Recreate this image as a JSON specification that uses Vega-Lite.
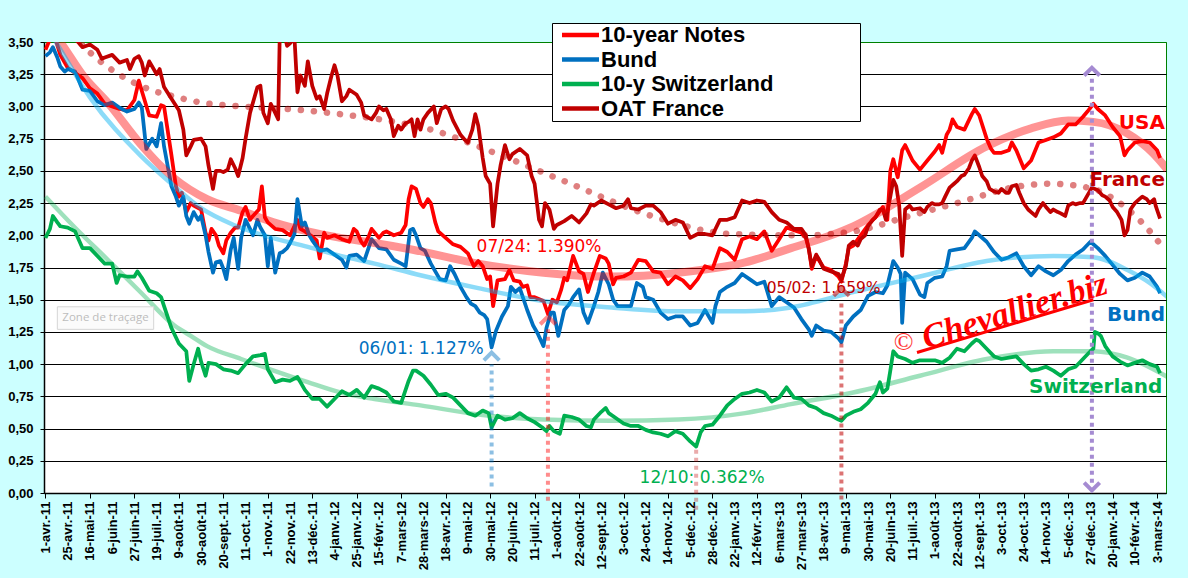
{
  "$schema": "https://vega.github.io/schema/vega-lite/v6.json",
  "width": 1122,
  "height": 451,
  "autosize": {"type": "none"},
  "padding": {"left": 44, "top": 42, "right": 22, "bottom": 85},
  "background": "#CCFFFF",
  "config": {
    "view": {"fill": "white", "stroke": "#008000", "strokeWidth": 1}
  },
  "datasets": {
    "us": [
      {"i":0,"v":3.44},{"i":3,"v":3.52},{"i":6,"v":3.55},{"i":10,"v":3.40},{"i":15,"v":3.30},{"i":20,"v":3.26},{"i":25,"v":3.22},{"i":30,"v":3.14},{"i":35,"v":3.10},{"i":40,"v":3.02},
      {"i":45,"v":3.00},{"i":50,"v":2.98},{"i":55,"v":2.97},{"i":60,"v":3.05},{"i":63,"v":3.20},{"i":65,"v":3.12},{"i":70,"v":2.93},{"i":75,"v":2.92},{"i":78,"v":3.01},{"i":80,"v":3.00},
      {"i":85,"v":2.62},{"i":88,"v":2.38},{"i":90,"v":2.30},{"i":92,"v":2.33},{"i":95,"v":2.18},{"i":98,"v":2.25},{"i":100,"v":2.23},{"i":105,"v":2.20},{"i":108,"v":2.02},{"i":110,"v":1.96},
      {"i":112,"v":2.05},{"i":115,"v":2.00},{"i":117,"v":1.92},{"i":120,"v":1.86},{"i":122,"v":1.96},{"i":125,"v":2.02},{"i":128,"v":2.06},{"i":130,"v":2.06},{"i":133,"v":2.18},{"i":135,"v":2.22},
      {"i":138,"v":2.12},{"i":140,"v":2.15},{"i":144,"v":2.20},{"i":146,"v":2.38},{"i":148,"v":2.14},{"i":150,"v":2.10},{"i":155,"v":2.05},{"i":160,"v":2.04},{"i":165,"v":2.00},{"i":170,"v":2.12},
      {"i":172,"v":2.05},{"i":175,"v":2.03},{"i":180,"v":1.99},{"i":183,"v":1.96},{"i":185,"v":1.82},{"i":188,"v":2.02},{"i":190,"v":1.98},{"i":195,"v":2.00},{"i":200,"v":1.97},{"i":205,"v":1.95},
      {"i":208,"v":2.05},{"i":210,"v":2.03},{"i":213,"v":1.95},{"i":215,"v":1.92},{"i":218,"v":1.99},{"i":220,"v":2.05},{"i":225,"v":1.98},{"i":228,"v":2.02},{"i":230,"v":2.03},{"i":235,"v":2.00},
      {"i":240,"v":2.02},{"i":243,"v":2.08},{"i":245,"v":2.28},{"i":247,"v":2.38},{"i":250,"v":2.36},{"i":253,"v":2.25},{"i":255,"v":2.22},{"i":258,"v":2.28},{"i":260,"v":2.25},{"i":263,"v":2.10},
      {"i":265,"v":2.03},{"i":270,"v":1.98},{"i":275,"v":1.93},{"i":280,"v":1.91},{"i":285,"v":1.86},{"i":289,"v":1.76},{"i":292,"v":1.80},{"i":295,"v":1.76},{"i":298,"v":1.66},{"i":300,"v":1.68},
      {"i":302,"v":1.45},{"i":305,"v":1.65},{"i":310,"v":1.66},{"i":313,"v":1.73},{"i":316,"v":1.65},{"i":320,"v":1.64},{"i":322,"v":1.60},{"i":325,"v":1.61},{"i":327,"v":1.52},{"i":330,"v":1.52},
      {"i":334,"v":1.50},{"i":336,"v":1.49},{"i":339,"v":1.39},{"i":342,"v":1.50},{"i":345,"v":1.48},{"i":348,"v":1.58},{"i":350,"v":1.67},{"i":352,"v":1.65},{"i":356,"v":1.84},{"i":360,"v":1.72},
      {"i":363,"v":1.70},{"i":366,"v":1.56},{"i":370,"v":1.71},{"i":374,"v":1.84},{"i":378,"v":1.82},{"i":380,"v":1.78},{"i":383,"v":1.62},{"i":385,"v":1.67},{"i":390,"v":1.68},{"i":395,"v":1.71},
      {"i":400,"v":1.81},{"i":405,"v":1.80},{"i":410,"v":1.72},{"i":415,"v":1.71},{"i":420,"v":1.62},{"i":425,"v":1.68},{"i":430,"v":1.65},{"i":435,"v":1.59},{"i":440,"v":1.66},{"i":445,"v":1.76},
      {"i":450,"v":1.74},{"i":455,"v":1.90},{"i":460,"v":1.87},{"i":465,"v":1.81},{"i":470,"v":1.97},{"i":475,"v":1.99},{"i":480,"v":1.97},{"i":485,"v":2.03},{"i":490,"v":1.88},{"i":495,"v":1.97},
      {"i":500,"v":2.06},{"i":505,"v":2.04},{"i":510,"v":2.02},{"i":513,"v":1.98},{"i":515,"v":1.90},{"i":517,"v":1.74},{"i":520,"v":1.84},{"i":525,"v":1.75},{"i":530,"v":1.73},{"i":535,"v":1.68},
      {"i":537,"v":1.64},{"i":540,"v":1.78},{"i":542,"v":1.90},{"i":545,"v":1.92},{"i":550,"v":2.00},{"i":555,"v":2.08},{"i":560,"v":2.14},{"i":565,"v":2.22},{"i":568,"v":2.12},{"i":570,"v":2.50},
      {"i":572,"v":2.59},{"i":575,"v":2.45},{"i":578,"v":2.66},{"i":580,"v":2.70},{"i":585,"v":2.58},{"i":590,"v":2.51},{"i":595,"v":2.58},{"i":600,"v":2.65},{"i":603,"v":2.70},{"i":605,"v":2.64},
      {"i":608,"v":2.78},{"i":610,"v":2.82},{"i":612,"v":2.90},{"i":615,"v":2.84},{"i":620,"v":2.82},{"i":625,"v":2.94},{"i":627,"v":2.98},{"i":630,"v":2.93},{"i":635,"v":2.75},{"i":638,"v":2.67},
      {"i":640,"v":2.64},{"i":645,"v":2.64},{"i":650,"v":2.66},{"i":652,"v":2.72},{"i":655,"v":2.66},{"i":660,"v":2.52},{"i":665,"v":2.58},{"i":670,"v":2.72},{"i":675,"v":2.74},{"i":680,"v":2.76},
      {"i":685,"v":2.79},{"i":690,"v":2.86},{"i":695,"v":2.86},{"i":700,"v":2.92},{"i":703,"v":2.96},{"i":707,"v":3.02},{"i":710,"v":2.98},{"i":715,"v":2.93},{"i":720,"v":2.84},{"i":725,"v":2.77},
      {"i":728,"v":2.62},{"i":730,"v":2.66},{"i":735,"v":2.72},{"i":740,"v":2.73},{"i":745,"v":2.72},{"i":750,"v":2.66},{"i":752,"v":2.60}
    ],
    "bund": [
      {"i":0,"v":3.39},{"i":3,"v":3.42},{"i":5,"v":3.46},{"i":8,"v":3.38},{"i":10,"v":3.31},{"i":13,"v":3.27},{"i":15,"v":3.29},{"i":20,"v":3.27},{"i":25,"v":3.13},{"i":30,"v":3.12},
      {"i":35,"v":3.04},{"i":40,"v":3.01},{"i":45,"v":3.03},{"i":50,"v":2.99},{"i":55,"v":2.96},{"i":60,"v":2.98},{"i":63,"v":3.03},{"i":65,"v":2.99},{"i":68,"v":2.67},{"i":72,"v":2.75},
      {"i":75,"v":2.69},{"i":78,"v":2.87},{"i":80,"v":2.69},{"i":85,"v":2.38},{"i":88,"v":2.30},{"i":90,"v":2.23},{"i":93,"v":2.30},{"i":95,"v":2.15},{"i":97,"v":2.09},{"i":100,"v":2.18},
      {"i":103,"v":2.12},{"i":105,"v":2.15},{"i":108,"v":2.00},{"i":110,"v":1.87},{"i":113,"v":1.71},{"i":115,"v":1.79},{"i":118,"v":1.80},{"i":120,"v":1.74},{"i":122,"v":1.66},{"i":125,"v":1.89},
      {"i":127,"v":1.98},{"i":130,"v":1.74},{"i":132,"v":1.98},{"i":135,"v":2.12},{"i":138,"v":2.05},{"i":140,"v":2.00},{"i":143,"v":2.12},{"i":145,"v":2.06},{"i":148,"v":2.00},{"i":150,"v":1.76},
      {"i":152,"v":1.98},{"i":155,"v":1.71},{"i":158,"v":1.86},{"i":160,"v":1.87},{"i":163,"v":1.90},{"i":165,"v":1.94},{"i":168,"v":2.01},{"i":170,"v":2.28},{"i":173,"v":2.07},{"i":175,"v":2.10},
      {"i":178,"v":2.00},{"i":180,"v":1.96},{"i":185,"v":1.88},{"i":190,"v":1.89},{"i":195,"v":1.85},{"i":200,"v":1.81},{"i":203,"v":1.75},{"i":205,"v":1.84},{"i":210,"v":1.85},{"i":215,"v":1.80},
      {"i":220,"v":1.97},{"i":225,"v":1.90},{"i":230,"v":1.89},{"i":235,"v":1.81},{"i":240,"v":1.78},{"i":243,"v":1.76},{"i":246,"v":2.04},{"i":248,"v":2.05},{"i":250,"v":2.00},{"i":253,"v":1.90},
      {"i":256,"v":1.88},{"i":260,"v":1.78},{"i":263,"v":1.72},{"i":266,"v":1.66},{"i":270,"v":1.65},{"i":273,"v":1.76},{"i":276,"v":1.70},{"i":280,"v":1.60},{"i":284,"v":1.52},{"i":287,"v":1.47},
      {"i":290,"v":1.45},{"i":293,"v":1.40},{"i":296,"v":1.38},{"i":298,"v":1.35},{"i":301,"v":1.13},{"i":304,"v":1.26},{"i":308,"v":1.37},{"i":312,"v":1.45},{"i":314,"v":1.60},{"i":317,"v":1.56},
      {"i":320,"v":1.59},{"i":325,"v":1.42},{"i":329,"v":1.30},{"i":332,"v":1.24},{"i":336,"v":1.14},{"i":338,"v":1.28},{"i":341,"v":1.40},{"i":343,"v":1.40},{"i":346,"v":1.22},{"i":350,"v":1.42},
      {"i":353,"v":1.46},{"i":356,"v":1.52},{"i":360,"v":1.58},{"i":363,"v":1.40},{"i":366,"v":1.32},{"i":370,"v":1.45},{"i":373,"v":1.56},{"i":376,"v":1.71},{"i":380,"v":1.62},{"i":383,"v":1.50},
      {"i":386,"v":1.45},{"i":390,"v":1.45},{"i":395,"v":1.45},{"i":399,"v":1.63},{"i":403,"v":1.60},{"i":405,"v":1.52},{"i":410,"v":1.50},{"i":415,"v":1.40},{"i":420,"v":1.35},{"i":425,"v":1.37},
      {"i":430,"v":1.37},{"i":435,"v":1.30},{"i":440,"v":1.32},{"i":445,"v":1.42},{"i":450,"v":1.32},{"i":452,"v":1.45},{"i":455,"v":1.56},{"i":460,"v":1.60},{"i":465,"v":1.63},{"i":470,"v":1.70},
      {"i":475,"v":1.66},{"i":480,"v":1.62},{"i":485,"v":1.64},{"i":490,"v":1.45},{"i":495,"v":1.52},{"i":500,"v":1.48},{"i":505,"v":1.44},{"i":510,"v":1.35},{"i":515,"v":1.27},{"i":517,"v":1.22},
      {"i":520,"v":1.30},{"i":525,"v":1.26},{"i":530,"v":1.25},{"i":535,"v":1.20},{"i":537,"v":1.17},{"i":540,"v":1.30},{"i":545,"v":1.37},{"i":550,"v":1.42},{"i":555,"v":1.53},{"i":560,"v":1.56},
      {"i":565,"v":1.55},{"i":568,"v":1.61},{"i":572,"v":1.80},{"i":575,"v":1.75},{"i":577,"v":1.70},{"i":578,"v":1.32},{"i":580,"v":1.71},{"i":585,"v":1.66},{"i":590,"v":1.54},{"i":593,"v":1.52},
      {"i":595,"v":1.63},{"i":600,"v":1.67},{"i":605,"v":1.68},{"i":608,"v":1.76},{"i":610,"v":1.88},{"i":615,"v":1.89},{"i":620,"v":1.90},{"i":625,"v":1.98},{"i":627,"v":2.03},{"i":630,"v":2.00},
      {"i":635,"v":1.95},{"i":640,"v":1.87},{"i":645,"v":1.81},{"i":650,"v":1.83},{"i":655,"v":1.86},{"i":660,"v":1.76},{"i":665,"v":1.69},{"i":670,"v":1.76},{"i":675,"v":1.72},{"i":680,"v":1.69},
      {"i":685,"v":1.73},{"i":690,"v":1.80},{"i":695,"v":1.85},{"i":700,"v":1.89},{"i":705,"v":1.95},{"i":710,"v":1.90},{"i":715,"v":1.84},{"i":720,"v":1.77},{"i":725,"v":1.70},{"i":730,"v":1.65},
      {"i":735,"v":1.67},{"i":740,"v":1.71},{"i":745,"v":1.68},{"i":750,"v":1.60},{"i":752,"v":1.55}
    ],
    "ch": [
      {"i":0,"v":1.98},{"i":3,"v":2.05},{"i":5,"v":2.15},{"i":8,"v":2.10},{"i":10,"v":2.07},{"i":15,"v":2.06},{"i":20,"v":2.03},{"i":25,"v":1.90},{"i":30,"v":1.90},{"i":35,"v":1.84},
      {"i":40,"v":1.78},{"i":45,"v":1.78},{"i":48,"v":1.63},{"i":50,"v":1.69},{"i":55,"v":1.68},{"i":60,"v":1.68},{"i":62,"v":1.72},{"i":65,"v":1.67},{"i":70,"v":1.57},{"i":75,"v":1.55},
      {"i":78,"v":1.52},{"i":80,"v":1.45},{"i":85,"v":1.28},{"i":90,"v":1.16},{"i":95,"v":1.10},{"i":97,"v":0.87},{"i":100,"v":1.00},{"i":103,"v":1.12},{"i":105,"v":1.02},{"i":108,"v":0.91},
      {"i":110,"v":1.01},{"i":115,"v":1.00},{"i":120,"v":0.96},{"i":125,"v":0.95},{"i":130,"v":0.93},{"i":135,"v":1.00},{"i":140,"v":1.06},{"i":145,"v":1.07},{"i":148,"v":1.08},{"i":150,"v":0.96},
      {"i":155,"v":0.86},{"i":160,"v":0.88},{"i":165,"v":0.87},{"i":170,"v":0.90},{"i":175,"v":0.80},{"i":180,"v":0.73},{"i":185,"v":0.73},{"i":190,"v":0.67},{"i":195,"v":0.73},{"i":200,"v":0.79},
      {"i":205,"v":0.76},{"i":210,"v":0.80},{"i":215,"v":0.74},{"i":220,"v":0.83},{"i":225,"v":0.81},{"i":230,"v":0.78},{"i":235,"v":0.71},{"i":240,"v":0.70},{"i":245,"v":0.87},{"i":248,"v":0.95},
      {"i":250,"v":0.95},{"i":255,"v":0.91},{"i":260,"v":0.84},{"i":265,"v":0.76},{"i":270,"v":0.77},{"i":275,"v":0.74},{"i":280,"v":0.68},{"i":285,"v":0.62},{"i":290,"v":0.60},{"i":295,"v":0.64},
      {"i":299,"v":0.62},{"i":301,"v":0.51},{"i":305,"v":0.60},{"i":310,"v":0.57},{"i":315,"v":0.58},{"i":320,"v":0.62},{"i":325,"v":0.58},{"i":330,"v":0.55},{"i":335,"v":0.51},{"i":338,"v":0.48},
      {"i":340,"v":0.52},{"i":343,"v":0.48},{"i":347,"v":0.46},{"i":350,"v":0.60},{"i":355,"v":0.59},{"i":360,"v":0.57},{"i":365,"v":0.52},{"i":368,"v":0.51},{"i":370,"v":0.57},{"i":375,"v":0.63},
      {"i":378,"v":0.66},{"i":380,"v":0.62},{"i":385,"v":0.58},{"i":390,"v":0.54},{"i":395,"v":0.52},{"i":400,"v":0.52},{"i":405,"v":0.49},{"i":410,"v":0.47},{"i":415,"v":0.46},{"i":420,"v":0.44},
      {"i":425,"v":0.48},{"i":430,"v":0.46},{"i":435,"v":0.40},{"i":439,"v":0.36},{"i":442,"v":0.47},{"i":445,"v":0.52},{"i":450,"v":0.53},{"i":455,"v":0.60},{"i":460,"v":0.68},{"i":465,"v":0.73},
      {"i":470,"v":0.77},{"i":475,"v":0.78},{"i":480,"v":0.80},{"i":485,"v":0.78},{"i":490,"v":0.71},{"i":495,"v":0.74},{"i":500,"v":0.82},{"i":505,"v":0.74},{"i":510,"v":0.73},{"i":515,"v":0.68},
      {"i":520,"v":0.66},{"i":525,"v":0.62},{"i":530,"v":0.60},{"i":535,"v":0.57},{"i":537,"v":0.56},{"i":540,"v":0.60},{"i":545,"v":0.63},{"i":550,"v":0.65},{"i":555,"v":0.70},{"i":560,"v":0.77},
      {"i":563,"v":0.86},{"i":565,"v":0.78},{"i":568,"v":0.81},{"i":570,"v":0.95},{"i":572,"v":1.10},{"i":575,"v":1.06},{"i":580,"v":1.04},{"i":585,"v":1.01},{"i":590,"v":1.03},{"i":595,"v":1.03},
      {"i":600,"v":1.03},{"i":605,"v":1.01},{"i":610,"v":1.05},{"i":615,"v":1.12},{"i":620,"v":1.10},{"i":625,"v":1.16},{"i":628,"v":1.19},{"i":630,"v":1.18},{"i":635,"v":1.12},{"i":640,"v":1.06},
      {"i":645,"v":1.04},{"i":650,"v":1.05},{"i":655,"v":1.06},{"i":660,"v":1.00},{"i":665,"v":0.95},{"i":670,"v":0.96},{"i":675,"v":0.98},{"i":680,"v":0.95},{"i":685,"v":0.91},{"i":690,"v":0.96},
      {"i":695,"v":0.98},{"i":700,"v":1.04},{"i":705,"v":1.10},{"i":707,"v":1.12},{"i":708,"v":1.25},{"i":710,"v":1.24},{"i":712,"v":1.22},{"i":715,"v":1.14},{"i":720,"v":1.06},{"i":725,"v":1.02},
      {"i":730,"v":0.99},{"i":735,"v":1.01},{"i":740,"v":1.03},{"i":745,"v":1.00},{"i":750,"v":0.98},{"i":752,"v":0.93}
    ],
    "fr": [
      {"i":0,"v":3.62},{"i":5,"v":3.60},{"i":10,"v":3.58},{"i":15,"v":3.55},{"i":20,"v":3.52},{"i":22,"v":3.50},{"i":25,"v":3.46},{"i":30,"v":3.48},{"i":35,"v":3.44},{"i":38,"v":3.37},
      {"i":40,"v":3.38},{"i":45,"v":3.40},{"i":50,"v":3.34},{"i":55,"v":3.36},{"i":57,"v":3.29},{"i":60,"v":3.37},{"i":63,"v":3.39},{"i":65,"v":3.34},{"i":67,"v":3.24},{"i":70,"v":3.35},
      {"i":75,"v":3.25},{"i":77,"v":3.29},{"i":80,"v":3.15},{"i":85,"v":3.06},{"i":90,"v":2.97},{"i":93,"v":2.82},{"i":95,"v":2.62},{"i":98,"v":2.69},{"i":100,"v":2.74},{"i":105,"v":2.75},
      {"i":108,"v":2.69},{"i":110,"v":2.54},{"i":113,"v":2.36},{"i":115,"v":2.50},{"i":118,"v":2.50},{"i":120,"v":2.49},{"i":123,"v":2.51},{"i":125,"v":2.59},{"i":128,"v":2.52},{"i":130,"v":2.46},
      {"i":133,"v":2.60},{"i":135,"v":2.75},{"i":138,"v":2.95},{"i":140,"v":3.03},{"i":143,"v":3.15},{"i":145,"v":3.16},{"i":147,"v":2.95},{"i":150,"v":2.87},{"i":152,"v":3.02},{"i":155,"v":2.95},
      {"i":157,"v":2.90},{"i":158,"v":3.52},{"i":160,"v":3.62},{"i":163,"v":3.47},{"i":165,"v":3.49},{"i":168,"v":3.53},{"i":170,"v":3.11},{"i":172,"v":3.24},{"i":175,"v":3.16},{"i":177,"v":3.35},
      {"i":180,"v":3.16},{"i":183,"v":3.06},{"i":185,"v":3.08},{"i":188,"v":2.98},{"i":190,"v":3.10},{"i":193,"v":3.24},{"i":195,"v":3.32},{"i":197,"v":3.24},{"i":200,"v":3.04},{"i":203,"v":3.08},
      {"i":205,"v":3.13},{"i":210,"v":3.09},{"i":213,"v":3.03},{"i":215,"v":2.93},{"i":220,"v":2.90},{"i":223,"v":2.95},{"i":225,"v":3.00},{"i":228,"v":2.97},{"i":230,"v":2.98},{"i":233,"v":2.90},
      {"i":235,"v":2.77},{"i":238,"v":2.85},{"i":240,"v":2.82},{"i":243,"v":2.87},{"i":245,"v":2.88},{"i":247,"v":2.90},{"i":249,"v":2.77},{"i":251,"v":2.90},{"i":253,"v":2.82},{"i":255,"v":2.90},
      {"i":258,"v":2.95},{"i":262,"v":3.00},{"i":264,"v":2.87},{"i":267,"v":2.98},{"i":270,"v":3.00},{"i":272,"v":2.98},{"i":275,"v":2.89},{"i":280,"v":2.78},{"i":283,"v":2.74},{"i":285,"v":2.72},
      {"i":288,"v":2.82},{"i":290,"v":2.94},{"i":292,"v":2.85},{"i":295,"v":2.60},{"i":297,"v":2.46},{"i":300,"v":2.40},{"i":302,"v":2.07},{"i":305,"v":2.40},{"i":307,"v":2.54},{"i":310,"v":2.70},
      {"i":313,"v":2.59},{"i":315,"v":2.63},{"i":320,"v":2.67},{"i":325,"v":2.62},{"i":328,"v":2.46},{"i":330,"v":2.40},{"i":333,"v":2.12},{"i":335,"v":2.07},{"i":337,"v":2.25},{"i":340,"v":2.20},
      {"i":343,"v":2.05},{"i":345,"v":2.08},{"i":350,"v":2.11},{"i":355,"v":2.15},{"i":360,"v":2.10},{"i":365,"v":2.17},{"i":368,"v":2.24},{"i":370,"v":2.23},{"i":375,"v":2.27},{"i":380,"v":2.24},
      {"i":385,"v":2.21},{"i":390,"v":2.23},{"i":393,"v":2.28},{"i":395,"v":2.21},{"i":400,"v":2.20},{"i":405,"v":2.23},{"i":410,"v":2.23},{"i":415,"v":2.18},{"i":420,"v":2.09},{"i":425,"v":2.12},
      {"i":430,"v":2.10},{"i":435,"v":1.98},{"i":440,"v":2.01},{"i":445,"v":2.01},{"i":450,"v":2.00},{"i":455,"v":2.12},{"i":460,"v":2.12},{"i":465,"v":2.14},{"i":470,"v":2.27},{"i":475,"v":2.25},
      {"i":480,"v":2.27},{"i":485,"v":2.26},{"i":490,"v":2.18},{"i":495,"v":2.12},{"i":500,"v":2.10},{"i":505,"v":2.05},{"i":510,"v":2.05},{"i":513,"v":2.00},{"i":515,"v":1.89},{"i":517,"v":1.76},
      {"i":520,"v":1.85},{"i":522,"v":1.81},{"i":525,"v":1.74},{"i":530,"v":1.72},{"i":535,"v":1.70},{"i":537,"v":1.66},{"i":540,"v":1.76},{"i":542,"v":1.92},{"i":545,"v":1.95},{"i":548,"v":1.92},
      {"i":550,"v":1.97},{"i":553,"v":2.00},{"i":555,"v":2.07},{"i":558,"v":2.12},{"i":560,"v":2.14},{"i":563,"v":2.20},{"i":565,"v":2.20},{"i":567,"v":2.12},{"i":570,"v":2.30},{"i":572,"v":2.43},
      {"i":574,"v":2.38},{"i":576,"v":2.23},{"i":578,"v":1.84},{"i":580,"v":2.20},{"i":583,"v":2.23},{"i":585,"v":2.20},{"i":590,"v":2.21},{"i":593,"v":2.18},{"i":595,"v":2.22},{"i":598,"v":2.25},
      {"i":600,"v":2.24},{"i":603,"v":2.24},{"i":605,"v":2.25},{"i":607,"v":2.30},{"i":610,"v":2.37},{"i":613,"v":2.40},{"i":615,"v":2.42},{"i":618,"v":2.46},{"i":620,"v":2.47},{"i":623,"v":2.52},
      {"i":625,"v":2.58},{"i":627,"v":2.62},{"i":630,"v":2.53},{"i":632,"v":2.46},{"i":635,"v":2.42},{"i":637,"v":2.36},{"i":640,"v":2.34},{"i":643,"v":2.33},{"i":645,"v":2.36},{"i":648,"v":2.33},
      {"i":650,"v":2.33},{"i":652,"v":2.38},{"i":655,"v":2.39},{"i":657,"v":2.33},{"i":660,"v":2.25},{"i":663,"v":2.20},{"i":665,"v":2.18},{"i":668,"v":2.15},{"i":670,"v":2.20},{"i":673,"v":2.25},
      {"i":675,"v":2.22},{"i":678,"v":2.18},{"i":680,"v":2.20},{"i":683,"v":2.18},{"i":685,"v":2.17},{"i":688,"v":2.15},{"i":690,"v":2.23},{"i":693,"v":2.25},{"i":695,"v":2.24},{"i":698,"v":2.25},
      {"i":700,"v":2.25},{"i":703,"v":2.31},{"i":706,"v":2.37},{"i":710,"v":2.35},{"i":713,"v":2.31},{"i":715,"v":2.30},{"i":718,"v":2.27},{"i":720,"v":2.22},{"i":723,"v":2.18},{"i":726,"v":2.12},
      {"i":728,"v":2.00},{"i":730,"v":2.04},{"i":732,"v":2.20},{"i":735,"v":2.25},{"i":738,"v":2.28},{"i":740,"v":2.30},{"i":743,"v":2.28},{"i":745,"v":2.25},{"i":748,"v":2.28},{"i":749,"v":2.23},
      {"i":752,"v":2.13}
    ],
    "trend": [
      {"s":"us","i":0,"v":3.65},{"s":"us","i":10,"v":3.50},{"s":"us","i":26,"v":3.23},{"s":"us","i":42,"v":3.03},{"s":"us","i":64,"v":2.71},{"s":"us","i":86,"v":2.45},{"s":"us","i":109,"v":2.28},
      {"s":"us","i":132,"v":2.19},{"s":"us","i":154,"v":2.10},{"s":"us","i":177,"v":2.03},{"s":"us","i":199,"v":1.98},{"s":"us","i":222,"v":1.94},{"s":"us","i":247,"v":1.89},{"s":"us","i":292,"v":1.78},
      {"s":"us","i":336,"v":1.71},{"s":"us","i":382,"v":1.68},{"s":"us","i":427,"v":1.71},{"s":"us","i":472,"v":1.79},{"s":"us","i":503,"v":1.90},{"s":"us","i":545,"v":2.07},{"s":"us","i":590,"v":2.37},
      {"s":"us","i":635,"v":2.69},{"s":"us","i":665,"v":2.83},{"s":"us","i":690,"v":2.89},{"s":"us","i":707,"v":2.88},{"s":"us","i":730,"v":2.79},{"s":"us","i":747,"v":2.64},{"s":"us","i":757,"v":2.51},
      {"s":"bund","i":0,"v":3.63},{"s":"bund","i":7,"v":3.50},{"s":"bund","i":30,"v":3.07},{"s":"bund","i":64,"v":2.62},{"s":"bund","i":87,"v":2.38},{"s":"bund","i":105,"v":2.21},{"s":"bund","i":127,"v":2.08},
      {"s":"bund","i":150,"v":1.99},{"s":"bund","i":177,"v":1.91},{"s":"bund","i":199,"v":1.84},{"s":"bund","i":222,"v":1.78},{"s":"bund","i":253,"v":1.69},{"s":"bund","i":292,"v":1.59},{"s":"bund","i":336,"v":1.49},
      {"s":"bund","i":382,"v":1.44},{"s":"bund","i":427,"v":1.41},{"s":"bund","i":472,"v":1.41},{"s":"bund","i":503,"v":1.44},{"s":"bund","i":545,"v":1.56},{"s":"bund","i":590,"v":1.68},{"s":"bund","i":635,"v":1.80},
      {"s":"bund","i":680,"v":1.84},{"s":"bund","i":707,"v":1.83},{"s":"bund","i":730,"v":1.73},{"s":"bund","i":745,"v":1.63},{"s":"bund","i":757,"v":1.52},
      {"s":"ch","i":0,"v":2.30},{"s":"ch","i":19,"v":2.07},{"s":"ch","i":42,"v":1.81},{"s":"ch","i":64,"v":1.56},{"s":"ch","i":87,"v":1.30},{"s":"ch","i":98,"v":1.22},{"s":"ch","i":109,"v":1.14},
      {"s":"ch","i":132,"v":1.04},{"s":"ch","i":154,"v":0.95},{"s":"ch","i":177,"v":0.86},{"s":"ch","i":199,"v":0.78},{"s":"ch","i":222,"v":0.73},{"s":"ch","i":253,"v":0.68},{"s":"ch","i":292,"v":0.61},
      {"s":"ch","i":336,"v":0.57},{"s":"ch","i":382,"v":0.56},{"s":"ch","i":427,"v":0.57},{"s":"ch","i":472,"v":0.62},{"s":"ch","i":503,"v":0.69},{"s":"ch","i":545,"v":0.78},{"s":"ch","i":590,"v":0.91},
      {"s":"ch","i":635,"v":1.04},{"s":"ch","i":680,"v":1.10},{"s":"ch","i":707,"v":1.10},{"s":"ch","i":730,"v":1.05},{"s":"ch","i":757,"v":0.90},
      {"s":"fr","i":0,"v":3.78},{"s":"fr","i":24,"v":3.49},{"s":"fr","i":30,"v":3.42},{"s":"fr","i":44,"v":3.29},{"s":"fr","i":57,"v":3.20},{"s":"fr","i":73,"v":3.12},{"s":"fr","i":86,"v":3.08},
      {"s":"fr","i":105,"v":3.03},{"s":"fr","i":132,"v":3.00},{"s":"fr","i":164,"v":2.98},{"s":"fr","i":199,"v":2.94},{"s":"fr","i":231,"v":2.89},{"s":"fr","i":260,"v":2.82},{"s":"fr","i":303,"v":2.64},
      {"s":"fr","i":350,"v":2.42},{"s":"fr","i":409,"v":2.15},{"s":"fr","i":463,"v":2.01},{"s":"fr","i":511,"v":2.00},{"s":"fr","i":545,"v":2.03},{"s":"fr","i":583,"v":2.15},{"s":"fr","i":615,"v":2.25},
      {"s":"fr","i":657,"v":2.38},{"s":"fr","i":678,"v":2.40},{"s":"fr","i":707,"v":2.36},{"s":"fr","i":721,"v":2.28},{"s":"fr","i":738,"v":2.12},{"s":"fr","i":755,"v":1.89}
    ],
    "arrows": [
      {"s":"06/01","i":301,"v":0.05,"v2":1.0},
      {"s":"07/24","i":339,"v":-0.06,"v2":1.27},
      {"s":"12/10","i":439,"v":-0.13,"v2":0.36},
      {"s":"05/02","i":537,"v":-0.05,"v2":1.50},
      {"s":"pic","i":706,"v":0.08,"v2":3.22}
    ],
    "headsUp": [
      {"s":"06/01","i":301,"v":1.09},
      {"s":"07/24","i":339,"v":1.37},
      {"s":"05/02","i":537,"v":1.59},
      {"s":"pic","i":706,"v":3.30}
    ],
    "headsDown": [
      {"s":"pic","i":706,"v":0.02}
    ],
    "notes": [
      {"s":"10-year Notes","t":"07/24: 1.390%","i":333,"v":1.91},
      {"s":"Bund","t":"06/01: 1.127%","i":253.5,"v":1.12},
      {"s":"10-y Switzerland","t":"12/10: 0.362%","i":443,"v":0.12},
      {"s":"OAT France","t":"05/02: 1.659%","i":525,"v":1.59}
    ],
    "tags": [
      {"s":"10-year Notes","t":"USA","i":755.3,"v":2.87},
      {"s":"OAT France","t":"France","i":755.3,"v":2.43},
      {"s":"Bund","t":"Bund","i":755.3,"v":1.38},
      {"s":"10-y Switzerland","t":"Switzerland","i":753.5,"v":0.82}
    ],
    "sig": [{"t":"Chevallier.biz","i":654,"v":1.41}],
    "copy": [{"t":"©","i":579,"v":1.17}],
    "underline": [{"i":588,"v":1.09,"i2":707,"v2":1.50}],
    "zone": [{"t":"Zone de traçage","i":8,"i2":73,"v":1.445,"v2":1.27,"ic":40.5,"vc":1.355}]
  },
  "encoding": {
    "x": {
      "field": "i",
      "type": "quantitative",
      "scale": {"domain": [-1, 756], "nice": false, "zero": false},
      "axis": {
        "title": null,
        "values": [0,15,30,45,60,75,90,105,120,135,150,165,180,195,210,225,240,255,270,285,300,315,330,345,360,375,390,405,420,435,450,465,480,495,510,525,540,555,570,585,600,615,630,645,660,675,690,705,720,735,750],
        "labelExpr": "['1-avr.-11','25-avr.-11','16-mai-11','6-juin-11','27-juin-11','19-juil.-11','9-août-11','30-août-11','20-sept.-11','11-oct.-11','1-nov.-11','22-nov.-11','13-déc.-11','4-janv.-12','25-janv.-12','15-févr.-12','7-mars-12','28-mars-12','18-avr.-12','9-mai-12','30-mai-12','20-juin-12','11-juil.-12','1-août-12','22-août-12','12-sept.-12','3-oct.-12','24-oct.-12','14-nov.-12','5-déc.-12','28-déc.-12','22-janv.-13','12-févr.-13','6-mars-13','27-mars-13','18-avr.-13','9-mai-13','30-mai-13','20-juin-13','11-juil.-13','1-août-13','22-août-13','12-sept.-13','3-oct.-13','24-oct.-13','14-nov.-13','5-déc.-13','27-déc.-13','20-janv.-14','10-févr.-14','3-mars-14'][round(datum.value / 15)]",
        "labelAngle": 270,
        "labelFont": "Liberation Sans",
        "labelFontSize": 13,
        "labelFontWeight": "bold",
        "labelColor": "black",
        "labelPadding": 3,
        "labelOverlap": false,
        "labelFlush": false,
        "labelBound": false,
        "tickSize": 5,
        "tickColor": "black",
        "tickOpacity": {"condition": {"test": "datum.value % 30 === 0", "value": 1}, "value": 0},
        "domainColor": "black",
        "domainWidth": 1.5,
        "grid": false
      }
    },
    "y": {
      "field": "v",
      "type": "quantitative",
      "scale": {"domain": [0, 3.5], "nice": false},
      "axis": {
        "title": null,
        "values": [0,0.25,0.5,0.75,1,1.25,1.5,1.75,2,2.25,2.5,2.75,3,3.25,3.5],
        "labelExpr": "replace(format(datum.value, '.2f'), '.', ',')",
        "labelFont": "Liberation Sans",
        "labelFontSize": 13,
        "labelFontWeight": "bold",
        "labelColor": "black",
        "labelPadding": 7,
        "labelFlush": false,
        "labelOverlap": false,
        "tickSize": 4,
        "tickColor": "black",
        "domainColor": "black",
        "domainWidth": 1.5,
        "grid": true,
        "gridColor": {"condition": {"test": "datum.value >= 3.5", "value": "#008000"}, "value": "black"},
        "gridWidth": 1
      }
    }
  },
  "layer": [
    {
      "data": {"name": "us"},
      "mark": {"type": "line", "strokeWidth": 3.75, "strokeJoin": "round", "clip": true},
      "encoding": {
        "color": {
          "datum": "10-year Notes",
          "type": "nominal",
          "title": null,
          "scale": {
            "domain": ["10-year Notes", "Bund", "10-y Switzerland", "OAT France"],
            "range": ["#FF0000", "#0070C0", "#00B050", "#C00000"]
          },
          "legend": {
            "title": null,
            "orient": "none",
            "legendX": 508,
            "legendY": -19,
            "fillColor": "white",
            "strokeColor": "black",
            "padding": 1,
            "symbolType": "M-3.7,0H3.7",
            "symbolSize": 100,
            "symbolStrokeWidth": 4.5,
            "symbolOffset": 16.5,
            "labelOffset": 9.5,
            "rowPadding": 2.5,
            "labelFont": "Liberation Sans",
            "labelFontSize": 22,
            "labelFontWeight": "bold",
            "labelColor": "black",
            "labelLimit": 600,
            "labelExpr": "datum.label === '10-y Switzerland' ? datum.label + '\u00a0\u00a0\u00a0\u00a0\u00a0\u00a0\u00a0\u00a0\u00a0\u00a0\u00a0\u00a0\u00a0\u00a0\u200b' : datum.label"
          }
        }
      }
    },
    {
      "data": {"name": "bund"},
      "mark": {"type": "line", "strokeWidth": 3.75, "strokeJoin": "round", "clip": true},
      "encoding": {"color": {"datum": "Bund", "type": "nominal", "title": null}}
    },
    {
      "data": {"name": "ch"},
      "mark": {"type": "line", "strokeWidth": 3.75, "strokeJoin": "round", "clip": true},
      "encoding": {"color": {"datum": "10-y Switzerland", "type": "nominal", "title": null}}
    },
    {
      "data": {"name": "fr"},
      "mark": {"type": "line", "strokeWidth": 3.75, "strokeJoin": "round", "clip": true},
      "encoding": {"color": {"datum": "OAT France", "type": "nominal", "title": null}}
    },
    {
      "data": {"name": "trend"},
      "transform": [{"filter": {"field": "s", "equal": "us"}}],
      "mark": {"type": "line", "color": "#FF0000", "opacity": 0.42, "strokeWidth": 8, "interpolate": "monotone", "clip": true},
      "encoding": {}
    },
    {
      "data": {"name": "trend"},
      "transform": [{"filter": {"field": "s", "equal": "bund"}}],
      "mark": {"type": "line", "color": "#00B0F0", "opacity": 0.45, "strokeWidth": 4.5, "interpolate": "monotone", "clip": true},
      "encoding": {}
    },
    {
      "data": {"name": "trend"},
      "transform": [{"filter": {"field": "s", "equal": "ch"}}],
      "mark": {"type": "line", "color": "#00B050", "opacity": 0.38, "strokeWidth": 4.5, "interpolate": "monotone", "clip": true},
      "encoding": {}
    },
    {
      "data": {"name": "trend"},
      "transform": [{"filter": {"field": "s", "equal": "fr"}}],
      "mark": {"type": "line", "color": "#C00000", "opacity": 0.5, "strokeWidth": 6.5, "strokeDash": [0.1, 13], "strokeCap": "round", "interpolate": "monotone", "clip": true},
      "encoding": {}
    },
    {
      "data": {"name": "arrows"},
      "mark": {"type": "rule", "strokeWidth": 4, "strokeDash": [4, 4], "strokeCap": "butt"},
      "encoding": {
        "y2": {"field": "v2"},
        "stroke": {
          "field": "s",
          "type": "nominal",
          "scale": {
            "domain": ["06/01", "07/24", "12/10", "05/02", "pic"],
            "range": ["rgba(0,112,192,0.45)", "rgba(255,0,0,0.45)", "rgba(192,0,0,0.33)", "rgba(192,0,0,0.55)", "#A58BD2"]
          },
          "legend": null
        }
      }
    },
    {
      "data": {"name": "headsUp"},
      "mark": {"type": "point", "shape": "M-1,1L0,0L1,1", "filled": false, "size": 240, "strokeWidth": 4, "opacity": 1},
      "encoding": {"stroke": {"field": "s", "type": "nominal", "legend": null}}
    },
    {
      "data": {"name": "headsDown"},
      "mark": {"type": "point", "shape": "M-1,-1L0,0L1,-1", "filled": false, "size": 240, "strokeWidth": 4, "opacity": 1},
      "encoding": {"stroke": {"field": "s", "type": "nominal", "legend": null}}
    },
    {
      "data": {"name": "notes"},
      "transform": [{"filter": "datum.s !== 'OAT France'"}],
      "mark": {"type": "text", "font": "DejaVu Sans", "fontSize": 17, "align": "center", "baseline": "middle"},
      "encoding": {"text": {"field": "t"}, "color": {"field": "s", "type": "nominal", "title": null}}
    },
    {
      "data": {"name": "notes"},
      "transform": [{"filter": "datum.s === 'OAT France'"}],
      "mark": {"type": "text", "font": "DejaVu Sans", "fontSize": 15.5, "align": "center", "baseline": "middle"},
      "encoding": {"text": {"field": "t"}, "color": {"field": "s", "type": "nominal", "title": null}}
    },
    {
      "data": {"name": "tags"},
      "mark": {"type": "text", "font": "DejaVu Sans", "fontSize": 20, "fontWeight": "bold", "align": "right", "baseline": "middle"},
      "encoding": {"text": {"field": "t"}, "color": {"field": "s", "type": "nominal", "title": null}}
    },
    {
      "data": {"name": "underline"},
      "mark": {"type": "rule", "color": "#FF0000", "strokeWidth": 3},
      "encoding": {"x2": {"field": "i2"}, "y2": {"field": "v2"}}
    },
    {
      "data": {"name": "sig"},
      "mark": {"type": "text", "font": "Liberation Serif", "fontStyle": "italic", "fontWeight": "bold", "fontSize": 34, "angle": 343, "align": "center", "baseline": "middle", "color": "#FF0000"},
      "encoding": {"text": {"field": "t"}}
    },
    {
      "data": {"name": "copy"},
      "mark": {"type": "text", "font": "Liberation Serif", "fontSize": 26, "align": "center", "baseline": "middle", "color": "#FF3030"},
      "encoding": {"text": {"field": "t"}}
    },
    {
      "data": {"name": "zone"},
      "mark": {"type": "rect", "fill": "#FBFBFB", "stroke": "#D5D5D5", "strokeWidth": 1},
      "encoding": {"x2": {"field": "i2"}, "y2": {"field": "v2"}}
    },
    {
      "data": {"name": "zone"},
      "mark": {"type": "text", "font": "Open Sans", "fontSize": 11.5, "color": "#BDBDBD", "align": "center", "baseline": "middle"},
      "encoding": {"x": {"field": "ic", "type": "quantitative"}, "y": {"field": "vc", "type": "quantitative"}, "text": {"field": "t"}}
    }
  ]
}
